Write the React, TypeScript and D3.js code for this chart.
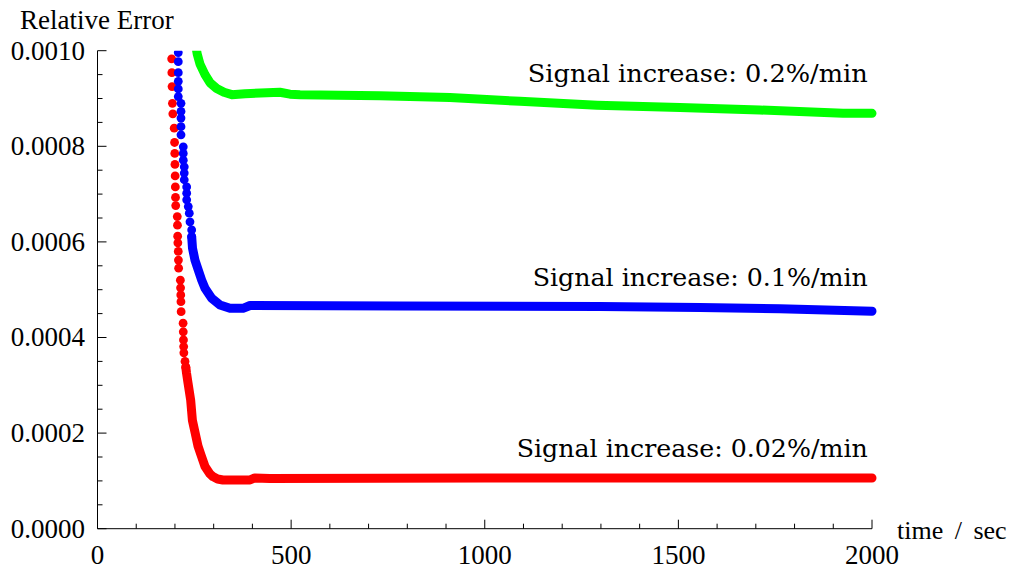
import React from 'react';
import * as d3 from 'd3';

// axis ticks
const xMajor = [0, 500, 1000, 1500, 2000];
const yMajor = [0, 0.0002, 0.0004, 0.0006, 0.0008, 0.001];

// red: 0.02%/min  (separate dots on the steep part, dense band afterwards)
const redDots: [number, number][] = [
  [191.5, 0.000983], [192, 0.000954], [192.5, 0.000925], [193.5, 0.00089], [194.5, 0.000868],
  [198, 0.000838], [199, 0.000808], [199.5, 0.000785], [200, 0.000762], [200.5, 0.000738],
  [201, 0.000715], [201.5, 0.000693], [202, 0.000676], [206, 0.000653], [206.5, 0.000635],
  [207, 0.000612], [207.5, 0.000598], [208.5, 0.00058], [209, 0.000562], [209.5, 0.000545],
  [214, 0.00052], [214.5, 0.000504], [215, 0.000489], [215.5, 0.000475], [216, 0.000454],
  [221, 0.00043], [221.5, 0.000412], [222, 0.000395], [222.5, 0.000381], [223, 0.000368],
  [226, 0.00035], [228, 0.000338],
];
const redBand: [number, number][] = [
  [228, 0.000338], [230, 0.000325], [233.7, 0.000305], [240.6, 0.000269], [245, 0.000227],
  [251.7, 0.000202], [259.5, 0.000173], [267, 0.000155], [277.6, 0.00013], [290, 0.000115],
  [298, 0.000109], [310, 0.000104], [324, 0.000102], [394, 0.000102], [406, 0.000106],
  [445, 0.000105], [1000, 0.000106], [2000, 0.000106],
];

// blue: 0.1%/min
const blueDots: [number, number][] = [
  [208.6, 0.000996], [208.6, 0.000977], [208.6, 0.000954], [208.6, 0.000936], [208.6, 0.00092],
  [208.6, 0.000904], [215.6, 0.00089], [215.6, 0.000873], [215.6, 0.000859], [215.6, 0.000841],
  [215.6, 0.000824], [221.5, 0.000799], [221.5, 0.000785], [221.5, 0.000771], [224, 0.000757],
  [224, 0.000744], [224, 0.00073], [230.3, 0.000715], [230.3, 0.000702], [230.3, 0.000688],
  [234.4, 0.000674], [237, 0.00066], [238.8, 0.000642], [243.2, 0.000625], [243.2, 0.000611],
];
const blueBand: [number, number][] = [
  [243.2, 0.000611], [245.3, 0.000587], [251.7, 0.000562], [260.3, 0.000541], [269, 0.00052],
  [277.6, 0.000503], [294.9, 0.000482], [316.3, 0.000468], [342, 0.000461], [375.7, 0.000461],
  [393.8, 0.000467], [781, 0.000466], [1297, 0.000465], [1556, 0.000463], [1762, 0.00046],
  [2000, 0.000455],
];

// green: 0.2%/min
const greenBand: [number, number][] = [
  [256, 0.001], [257.5, 0.000993], [264.7, 0.000972], [277.6, 0.00095], [290.5, 0.000933],
  [307.8, 0.000921], [326.6, 0.000913], [347, 0.000908], [381, 0.00091], [471, 0.000913],
  [497, 0.000909], [523, 0.000908], [729, 0.000906], [910, 0.000902], [1091, 0.000894],
  [1290, 0.000886], [1504, 0.000881], [1710, 0.000876], [1925, 0.000869], [2000, 0.000869],
];

const series = [
  { name: 'Signal increase: 0.02%/min', color: '#ff0000', dots: redDots, band: redBand },
  { name: 'Signal increase: 0.1%/min', color: '#0000ff', dots: blueDots, band: blueBand },
  { name: 'Signal increase: 0.2%/min', color: '#00ff00', dots: [] as [number, number][], band: greenBand },
];

const W = 1016;
const H = 569;

export default function App() {
  const x = d3.scaleLinear().domain([0, 2000]).range([97.5, 872]);
  const y = d3.scaleLinear().domain([0, 0.001]).range([528.7, 50.7]);

  const xMinor = d3.range(0, 2001, 100).filter(d => d % 500 !== 0);
  const yMinor = d3.range(0, 21).map(i => i * 0.00005).filter((_, i) => i % 4 !== 0);

  const line = d3.line<[number, number]>()
    .x(d => x(d[0]))
    .y(d => y(d[1]));

  const serif = "'Liberation Serif', serif";
  const labelFont = "'DejaVu Serif', serif";

  // label anchors (right end, baseline) in data units
  const labelPos = [
    { t: 1989, v: 0.000149, len: 351 },
    { t: 1989, v: 0.000508, len: 335 },
    { t: 1989, v: 0.000935, len: 340 },
  ];

  const [x0, x1] = x.range();
  const [y0, y1] = y.range();

  return (
    <div style={{ position: 'absolute', left: 0, top: 0 }}>
      <svg width={W} height={H} style={{ display: 'block', background: '#fff' }}>
        <defs>
          <clipPath id="plotClip">
            <rect x={x0} y={y1} width={W - x0} height={y0 - y1 + 10} />
          </clipPath>
        </defs>

        {/* data */}
        <g clipPath="url(#plotClip)">
          {series.map(s => (
            <g key={s.name}>
              <path d={line(s.band) || ''} fill="none" stroke={s.color} strokeWidth={9}
                strokeLinecap="round" strokeLinejoin="round" />
              {s.dots.map((d, i) => (
                <circle key={i} cx={x(d[0])} cy={y(d[1])} r={4.4} fill={s.color} />
              ))}
            </g>
          ))}
        </g>

        {/* axes */}
        <g stroke="#000" strokeWidth={1} fill="none">
          <line x1={x0} x2={x1} y1={y0} y2={y0} />
          <line x1={x0} x2={x0} y1={y0} y2={y1} />
          {xMajor.map(d => <line key={'xM' + d} x1={x(d)} x2={x(d)} y1={y0} y2={y0 - 9} />)}
          {xMinor.map(d => <line key={'xm' + d} x1={x(d)} x2={x(d)} y1={y0} y2={y0 - 5} />)}
          {yMajor.map(d => <line key={'yM' + d} x1={x0} x2={x0 + 9} y1={y(d)} y2={y(d)} />)}
          {yMinor.map(d => <line key={'ym' + d} x1={x0} x2={x0 + 5} y1={y(d)} y2={y(d)} />)}
        </g>

        <g style={{ fontFamily: serif, fontSize: '27px' }} fill="#000">
          {yMajor.map(d => (
            <text key={'yl' + d} x={85} y={y(d)} dy="0.33em" textAnchor="end">
              {d3.format('.4f')(d)}
            </text>
          ))}
          {xMajor.map(d => (
            <text key={'xl' + d} x={x(d)} y={564} textAnchor="middle">
              {d}
            </text>
          ))}
          <text x={20} y={29}>Relative Error</text>
          <text x={897} y={539} style={{ wordSpacing: '5px', fontSize: '26px' }}>time / sec</text>
        </g>

        <g style={{ fontFamily: labelFont, fontSize: '25px' }} fill="#000">
          {series.map((s, i) => (
            <text key={'lab' + i} x={x(labelPos[i].t)} y={y(labelPos[i].v)} textAnchor="end"
              textLength={labelPos[i].len} lengthAdjust="spacingAndGlyphs">
              {s.name}
            </text>
          ))}
        </g>
      </svg>
    </div>
  );
}
